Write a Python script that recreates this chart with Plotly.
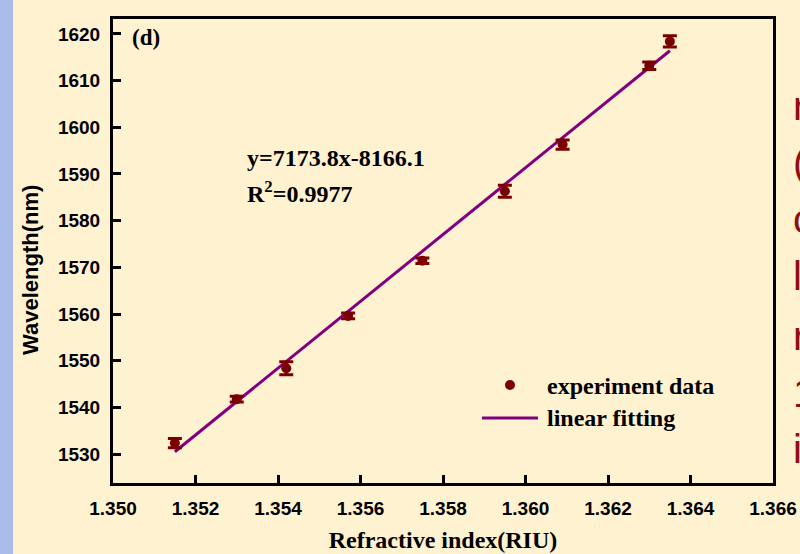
import plotly.graph_objects as go

# ---- data ----
ri = [1.3515, 1.3530, 1.3542, 1.3557, 1.3575, 1.3595, 1.3609, 1.3630, 1.3635]
wavelength = [1532.35, 1541.76, 1548.4, 1559.6, 1571.4, 1586.3, 1596.3, 1613.2, 1618.4]
wl_err = [1.0, 0.6, 1.4, 0.6, 0.6, 1.3, 1.0, 0.8, 1.2]
fit_x = [1.3515, 1.3635]
fit_y = [1530.5, 1616.4]
x_ticks = [1.350, 1.352, 1.354, 1.356, 1.358, 1.360, 1.362, 1.364, 1.366]
y_ticks = [1530, 1540, 1550, 1560, 1570, 1580, 1590, 1600, 1610, 1620]
side_letters = ["r", "(", "c", "l", "r", "1", "i"]

W, H = 800, 554
L, R, T, B = 113, 27, 19, 71
PW, PH = W - L - R, H - T - B


def px(xp):
    return (xp - L) / PW


def py(yp):
    return (H - B - yp) / PH


BG = "#FFF2D1"
DARKRED = "#7A0000"
PURPLE = "#800080"
SERIF = "Liberation Serif"
SANS = "Liberation Sans"

fig = go.Figure()
fig.add_trace(go.Scatter(
    x=fit_x, y=fit_y, mode="lines", name="linear fitting",
    line=dict(color=PURPLE, width=3), showlegend=False))
fig.add_trace(go.Scatter(
    x=ri, y=wavelength, mode="markers", name="experiment data",
    marker=dict(color=DARKRED, size=10, symbol="circle"),
    error_y=dict(type="data", array=wl_err, visible=True,
                 color=DARKRED, thickness=3, width=7),
    showlegend=False))

axis_common = dict(
    showline=True, linecolor="black", linewidth=3, mirror=True,
    ticks="inside", ticklen=8, tickwidth=3, tickcolor="black",
    showgrid=False, zeroline=False,
    tickfont=dict(family=SANS, size=19, color="black", weight="bold"),
)

fig.update_xaxes(
    range=[1.350, 1.366], tickvals=x_ticks,
    ticktext=[f"{v:.3f}" for v in x_ticks],
    title=dict(text="Refractive index(RIU)", standoff=14,
               font=dict(family=SERIF, size=24, color="black", weight="bold")),
    ticklabelstandoff=6,
    **axis_common)
fig.update_yaxes(
    range=[1523.8, 1623.2], tickvals=y_ticks,
    ticktext=[str(v) for v in y_ticks],
    ticklabelstandoff=6,
    **axis_common)

shapes = [
    # slide strip on the left
    dict(type="rect", xref="paper", yref="paper",
         x0=px(0), x1=px(13), y0=py(H), y1=py(0),
         fillcolor="#A9BDE8", line=dict(width=0), layer="below"),
    # legend line
    dict(type="line", xref="paper", yref="paper",
         x0=px(482), x1=px(538), y0=py(418), y1=py(418),
         line=dict(color=PURPLE, width=3)),
    # legend marker
    dict(type="circle", xref="paper", yref="paper",
         x0=px(505), x1=px(515), y0=py(390), y1=py(380),
         fillcolor=DARKRED, line=dict(width=0)),
]

serif_font = dict(family=SERIF, size=24, color="black", weight="bold")
ann = [
    dict(text="Wavelength(nm)", x=px(30), y=py(270), xanchor="center", yanchor="middle",
         textangle=-90, font=dict(family=SANS, size=22, color="black", weight="bold")),
    dict(text="(d)", x=px(130), y=py(38), xanchor="left", yanchor="middle",
         font=dict(family=SERIF, size=23, color="black", weight="bold")),
    dict(text="y=7173.8x-8166.1", x=px(245), y=py(158), xanchor="left", yanchor="middle",
         font=serif_font),
    dict(text="R<sup>2</sup>=0.9977", x=px(245), y=py(192), xanchor="left", yanchor="middle",
         font=serif_font),
    dict(text="experiment data", x=px(545), y=py(386), xanchor="left", yanchor="middle",
         font=serif_font),
    dict(text="linear fitting", x=px(545), y=py(418), xanchor="left", yanchor="middle",
         font=serif_font),
]
baselines = [120, 177, 233, 290, 350, 407, 463]
for ch, bl in zip(side_letters, baselines):
    ann.append(dict(text=ch, x=px(791), y=py(bl - 14), xanchor="left", yanchor="middle",
                    font=dict(family=SANS, size=40, color="#8B1010")))
for a in ann:
    a.update(xref="paper", yref="paper", showarrow=False)

fig.update_layout(
    width=W, height=H,
    margin=dict(l=L, r=R, t=T, b=B, autoexpand=False),
    paper_bgcolor=BG, plot_bgcolor=BG,
    shapes=shapes, annotations=ann, showlegend=False,
)

fig.write_html(
    "out.html",
    config={"displayModeBar": False},
    post_script="document.body.style.margin='0';document.body.style.overflow='hidden';",
)
